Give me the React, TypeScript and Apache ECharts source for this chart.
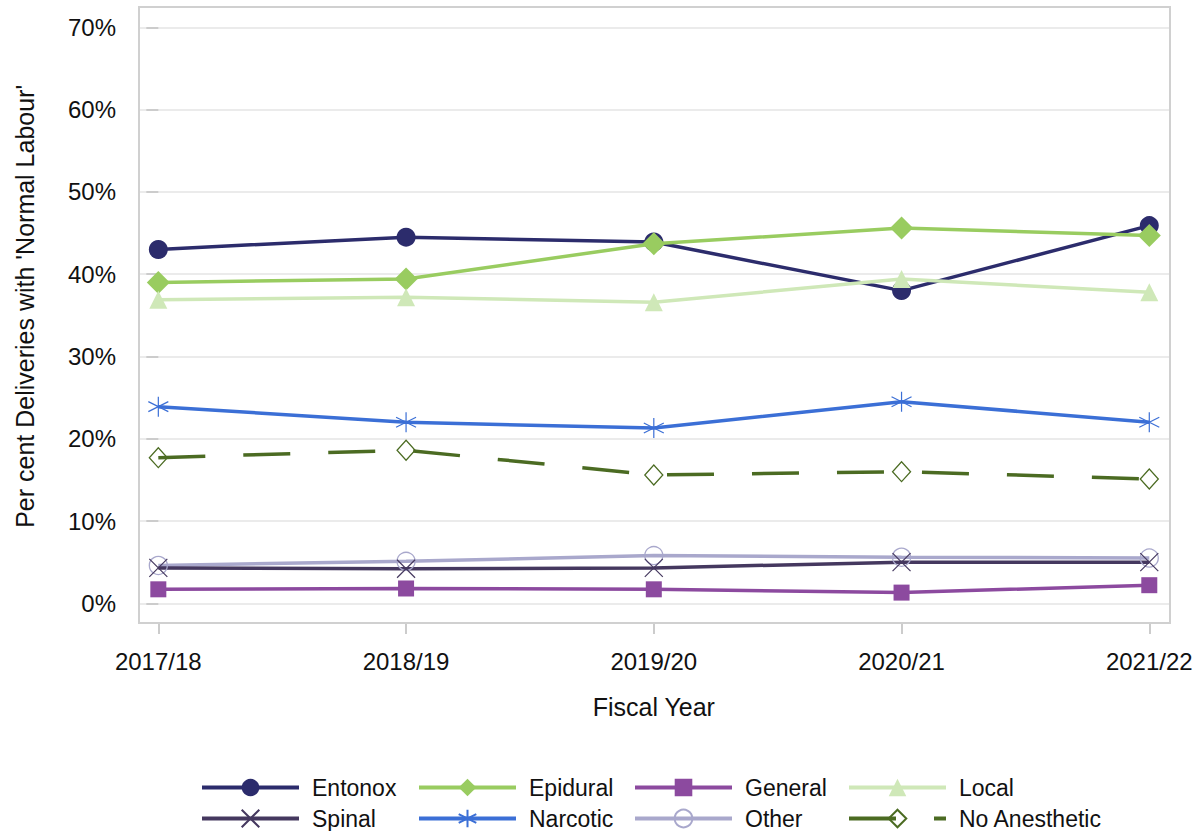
import React, { useEffect, useRef } from "react";
import * as echarts from "echarts";

const years = ["2017/18", "2018/19", "2019/20", "2020/21", "2021/22"];
const entonox = [43.0, 44.5, 43.9, 38.0, 45.9];
const epidural = [39.0, 39.4, 43.7, 45.6, 44.7];
const general = [1.7, 1.8, 1.7, 1.3, 2.2];
const local = [36.9, 37.2, 36.6, 39.4, 37.8];
const spinal = [4.3, 4.2, 4.3, 5.0, 5.0];
const narcotic = [23.9, 22.0, 21.3, 24.5, 22.0];
const other = [4.6, 5.1, 5.8, 5.6, 5.5];
const noAnesthetic = [17.7, 18.6, 15.6, 16.0, 15.1];
const yTicks = { min: 0, max: 70, interval: 10 };

const FONT = "'Liberation Sans', Arial, sans-serif";

const X_PATH = "path://M0,0L10,10M10,0L0,10";
const AST_PATH = "path://M5,0L5,10M0.67,2.5L9.33,7.5M0.67,7.5L9.33,2.5";

export default function App() {
  const ref = useRef<HTMLDivElement>(null);
  useEffect(() => {
    if (!ref.current) return;
    const chart = echarts.init(ref.current, undefined, { renderer: "svg" });
    const pts = (arr: number[]) => arr.map((v, i) => [i, v]);
    const mk = (
      name: string,
      data: number[],
      color: string,
      symbol: string,
      size: number | number[],
      extra: any = {}
    ) => ({
      name,
      type: "line",
      xAxisIndex: 0,
      yAxisIndex: 0,
      data: pts(data),
      color,
      symbol,
      symbolSize: size,
      showSymbol: true,
      clip: false,
      lineStyle: { color, width: 3.5, ...(extra.lineStyle || {}) },
      itemStyle: { color, ...(extra.itemStyle || {}) },
      emphasis: { disabled: true },
    });
    const legendBase = {
      orient: "vertical",
      top: 776,
      padding: 0,
      itemWidth: 97,
      itemHeight: 22,
      itemGap: 8,
      selectedMode: false,
      lineStyle: { width: 4 },
      textStyle: { fontFamily: FONT, fontSize: 23, color: "#111", padding: [0, 0, 0, 8] },
    };
    const hollow = (c: string, w = 1.3) => ({
      itemStyle: { color: "transparent", borderColor: c, borderWidth: w },
    });
    chart.setOption({
      animation: false,
      backgroundColor: "#fff",
      grid: [
        { left: 139, right: 28, top: 27.3, bottom: 227.7 },
        { left: 158.3, right: 48.7, top: 7, bottom: 208 },
      ],
      graphic: [
        {
          type: "rect",
          shape: { x: 139, y: 7, width: 1031, height: 616 },
          style: { fill: "none", stroke: "#d0d0d0", lineWidth: 2 },
          z: 1,
          silent: true,
        },
      ],
      xAxis: [
        { type: "value", gridIndex: 0, min: -0.078, max: 4.0836, show: false },
        {
          type: "category",
          gridIndex: 1,
          data: years,
          boundaryGap: false,
          axisLine: { show: false },
          axisTick: { show: true, length: 11, lineStyle: { color: "#cccccc", width: 2 } },
          axisLabel: { fontFamily: FONT, fontSize: 24, color: "#111", margin: 26 },
          splitLine: { show: false },
          name: "Fiscal Year",
          nameLocation: "middle",
          nameGap: 71,
          nameTextStyle: { fontFamily: FONT, fontSize: 25, color: "#111" },
        },
      ],
      yAxis: [
        {
          type: "value",
          gridIndex: 0,
          min: yTicks.min,
          max: yTicks.max,
          interval: yTicks.interval,
          axisLine: { show: false },
          axisTick: { show: true, length: 12, lineStyle: { color: "#cccccc", width: 2 } },
          axisLabel: { formatter: "{value}%", fontFamily: FONT, fontSize: 24, color: "#111", margin: 23 },
          splitLine: { show: true, lineStyle: { color: "#ebebeb", width: 2 } },
          name: "Per cent Deliveries with 'Normal Labour'",
          nameLocation: "middle",
          nameGap: 102,
          nameTextStyle: { fontFamily: FONT, fontSize: 25, color: "#111", padding: [0, 0, 0, 18] },
        },
        { type: "value", gridIndex: 1, show: false, min: 0, max: 1 },
      ],
      legend: [
        { ...legendBase, left: 200, data: ["Entonox", "Spinal"] },
        { ...legendBase, left: 417, data: ["Epidural", "Narcotic"] },
        { ...legendBase, left: 633, data: ["General", "Other"] },
        { ...legendBase, left: 847, data: ["Local", "No Anesthetic"] },
      ],
      series: [
        mk("Entonox", entonox, "#2c2c6c", "circle", 19),
        mk("Epidural", epidural, "#99cc60", "diamond", 23),
        mk("General", general, "#8c4a9f", "rect", 16),
        mk("Local", local, "#cfe8b8", "triangle", 18),
        mk("Other", other, "#a9a8cc", "circle", 18, hollow("#a9a8cc")),
        mk("Spinal", spinal, "#45385f", X_PATH, 18, hollow("#45385f", 1.2)),
        mk("Narcotic", narcotic, "#3b6fd6", AST_PATH, 20, hollow("#3b6fd6", 1.2)),
        mk("No Anesthetic", noAnesthetic, "#4b6b22", "diamond", [18, 20], {
          lineStyle: { type: [47, 38] },
          ...hollow("#4b6b22"),
        }),
      ],
    });
    return () => chart.dispose();
  }, []);
  return (
    <div
      ref={ref}
      style={{ position: "fixed", left: 0, top: 0, width: 1198, height: 831 }}
    />
  );
}
